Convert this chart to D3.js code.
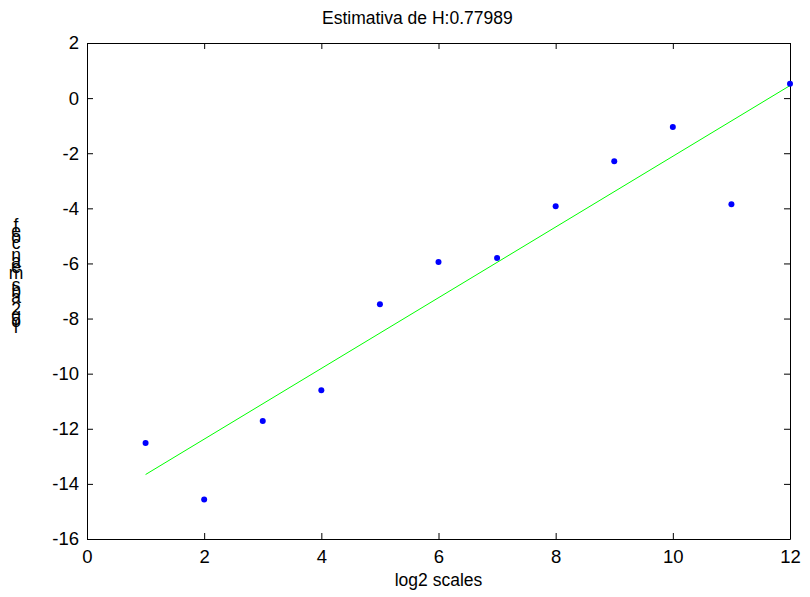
<!DOCTYPE html>
<html>
<head>
<meta charset="utf-8">
<script src="https://cdn.jsdelivr.net/npm/d3@7"></script>
<style>
  html, body { margin: 0; padding: 0; background: #fff; }
  svg { display: block; }
  text { font-family: Arial, "Liberation Sans", Helvetica, sans-serif; fill: #000; }
</style>
</head>
<body>
<svg id="chart" width="810" height="597"></svg>
<script>
// Wavelet scale vs. log2 of mean coefficient magnitude
const scales = [1, 2, 3, 4, 5, 6, 7, 8, 9, 10, 11, 12];
const logCoef = [-12.52, -14.57, -11.72, -10.60, -7.48, -5.95, -5.80, -3.92, -2.29, -1.05, -3.85, 0.52];
const xTicks = [0, 2, 4, 6, 8, 10, 12];
const yTicks = [2, 0, -2, -4, -6, -8, -10, -12, -14, -16];
const titleText = "Estimativa de H:0.77989";
const xLabel = "log2 scales";
const yLabel = "log2 abs mean coef";

const svg = d3.select("#chart");
const margin = { left: 87, right: 20, top: 43, bottom: 58 };
const W = 810, H = 597;

const x = d3.scaleLinear().domain([0, 12]).range([margin.left, W - margin.right]);
const y = d3.scaleLinear().domain([-16, 2]).range([H - margin.bottom, margin.top]);

// least-squares line through the points
const mx = d3.mean(scales), my = d3.mean(logCoef);
const sxy = d3.sum(scales, (v, i) => (v - mx) * (logCoef[i] - my));
const sxx = d3.sum(scales, v => (v - mx) * (v - mx));
const slope = sxy / sxx, intercept = my - slope * mx;
const xFirst = d3.min(scales), xLast = d3.max(scales);

const fontSize = 17.5;
const tickFont = 18.5;
const titleFont = 17.5;
const tickLen = 6;

// axes: ticks pointing inward on all four sides
const axB = d3.axisBottom(x).tickValues(xTicks).tickSize(-tickLen).tickSizeOuter(0).tickPadding(11).tickFormat(d3.format("d"));
const axT = d3.axisTop(x).tickValues(xTicks).tickSize(-tickLen).tickSizeOuter(0).tickFormat("");
const axL = d3.axisLeft(y).tickValues(yTicks).tickSize(-tickLen).tickSizeOuter(0).tickPadding(8).tickFormat(d => d < 0 ? "-" + Math.abs(d) : d);
const axR = d3.axisRight(y).tickValues(yTicks).tickSize(-tickLen).tickSizeOuter(0).tickFormat("");

function style(g) {
  g.select(".domain").attr("stroke", "#000").attr("stroke-width", 1);
  g.selectAll(".tick line").attr("stroke", "#000");
  g.selectAll(".tick text").attr("font-size", tickFont).attr("font-family", "Arial, 'Liberation Sans', sans-serif").attr("fill", "#000");
}

svg.append("g").attr("transform", `translate(0,${y(-16)})`).call(axB).call(style);
svg.append("g").attr("transform", `translate(0,${y(2)})`).call(axT).call(style);
svg.append("g").attr("transform", `translate(${x(0)},0)`).call(axL).call(style);
svg.append("g").attr("transform", `translate(${x(12)},0)`).call(axR).call(style);

// fitted line
svg.append("line")
  .attr("x1", x(xFirst)).attr("y1", y(intercept + slope * xFirst))
  .attr("x2", x(xLast)).attr("y2", y(intercept + slope * xLast))
  .attr("stroke", "#00ff00").attr("stroke-width", 1);

// points
svg.append("g").selectAll("circle").data(scales).join("circle")
  .attr("cx", d => x(d)).attr("cy", (d, i) => y(logCoef[i]))
  .attr("r", 3).attr("fill", "#0000ff");

// title and x label
svg.append("text").attr("x", 322).attr("y", 24)
  .attr("text-anchor", "start").attr("font-size", titleFont).text(titleText);
svg.append("text").attr("x", (x(0) + x(12)) / 2).attr("y", 586)
  .attr("text-anchor", "middle").attr("font-size", fontSize).text(xLabel);

// y label: upright characters stacked tightly, last character on top
const yl = svg.append("g").attr("class", "ylabel");
const chars = yLabel.split("").reverse();
yl.selectAll("text").data(chars).join("text")
  .attr("x", 16).attr("y", (d, i) => 231 + i * 6)
  .attr("text-anchor", "middle").attr("font-size", fontSize)
  .text(d => d === " " ? "" : d);
</script>
</body>
</html>
